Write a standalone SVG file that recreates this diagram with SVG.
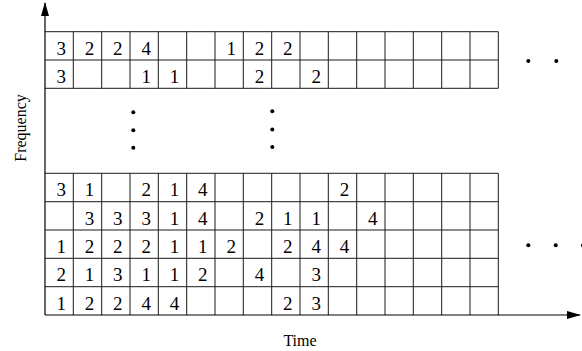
<svg xmlns="http://www.w3.org/2000/svg" width="582" height="351" viewBox="0 0 582 351">
<style>
.g{stroke:#1a1a1a;stroke-width:1;fill:none}
.ax{stroke:#000;stroke-width:1.2;fill:none}
.d{font-family:"Liberation Serif","Times New Roman",serif;font-size:19px;fill:#000;text-anchor:middle}
.lb{font-family:"Liberation Serif","Times New Roman",serif;font-size:16px;fill:#000;text-anchor:middle}
.dot{fill:#000}
</style>
<defs>
<marker id="ah" markerWidth="14" markerHeight="8" refX="13" refY="4" orient="auto" markerUnits="userSpaceOnUse">
<path d="M0,0 L14,4 L0,8 Z" fill="#000"/>
</marker>
</defs>
<rect width="582" height="351" fill="#fff"/>
<g id="grid-top">
<path class="g" d="M45,31.7H498.3M45,60H498.3M45,88.3H498.3"/>
<path class="g" d="M73.3,31.7V88.3M101.7,31.7V88.3M130,31.7V88.3M158.3,31.7V88.3M186.7,31.7V88.3M215,31.7V88.3M243.3,31.7V88.3M271.7,31.7V88.3M300,31.7V88.3M328.3,31.7V88.3M356.7,31.7V88.3M385,31.7V88.3M413.3,31.7V88.3M441.7,31.7V88.3M470,31.7V88.3M498.3,31.7V88.3"/>
</g>
<g id="grid-bottom">
<path class="g" d="M45,173.3H498.3M45,201.7H498.3M45,230H498.3M45,258.3H498.3M45,286.7H498.3"/>
<path class="g" d="M73.3,173.3V315M101.7,173.3V315M130,173.3V315M158.3,173.3V315M186.7,173.3V315M215,173.3V315M243.3,173.3V315M271.7,173.3V315M300,173.3V315M328.3,173.3V315M356.7,173.3V315M385,173.3V315M413.3,173.3V315M441.7,173.3V315M470,173.3V315M498.3,173.3V315"/>
</g>
<g id="row-t1" class="d">
<text x="61.2" y="54.7">3</text><text x="89.5" y="54.7">2</text><text x="117.8" y="54.7">2</text><text x="146.2" y="54.7">4</text>
<text x="231.2" y="54.7">1</text><text x="259.5" y="54.7">2</text><text x="287.8" y="54.7">2</text>
</g>
<g id="row-t2" class="d">
<text x="61.2" y="83">3</text><text x="146.2" y="83">1</text><text x="174.5" y="83">1</text><text x="259.5" y="83">2</text><text x="316.2" y="83">2</text>
</g>
<g id="row-b1" class="d">
<text x="61.2" y="196.3">3</text><text x="89.5" y="196.3">1</text><text x="146.2" y="196.3">2</text><text x="174.5" y="196.3">1</text><text x="202.8" y="196.3">4</text><text x="344.5" y="196.3">2</text>
</g>
<g id="row-b2" class="d">
<text x="89.5" y="224.7">3</text><text x="117.8" y="224.7">3</text><text x="146.2" y="224.7">3</text><text x="174.5" y="224.7">1</text><text x="202.8" y="224.7">4</text>
<text x="259.5" y="224.7">2</text><text x="287.8" y="224.7">1</text><text x="316.2" y="224.7">1</text><text x="372.8" y="224.7">4</text>
</g>
<g id="row-b3" class="d">
<text x="61.2" y="253">1</text><text x="89.5" y="253">2</text><text x="117.8" y="253">2</text><text x="146.2" y="253">2</text><text x="174.5" y="253">1</text><text x="202.8" y="253">1</text><text x="231.2" y="253">2</text>
<text x="287.8" y="253">2</text><text x="316.2" y="253">4</text><text x="344.5" y="253">4</text>
</g>
<g id="row-b4" class="d">
<text x="61.2" y="281.3">2</text><text x="89.5" y="281.3">1</text><text x="117.8" y="281.3">3</text><text x="146.2" y="281.3">1</text><text x="174.5" y="281.3">1</text><text x="202.8" y="281.3">2</text>
<text x="259.5" y="281.3">4</text><text x="316.2" y="281.3">3</text>
</g>
<g id="row-b5" class="d">
<text x="61.2" y="309.7">1</text><text x="89.5" y="309.7">2</text><text x="117.8" y="309.7">2</text><text x="146.2" y="309.7">4</text><text x="174.5" y="309.7">4</text>
<text x="287.8" y="309.7">2</text><text x="316.2" y="309.7">3</text>
</g>
<g id="ellipses">
<circle class="dot" cx="133.3" cy="112.3" r="2"/><circle class="dot" cx="133.3" cy="130.3" r="2"/><circle class="dot" cx="133.3" cy="147.7" r="2"/>
<circle class="dot" cx="272.3" cy="111.3" r="2"/><circle class="dot" cx="272.3" cy="129.5" r="2"/><circle class="dot" cx="272.3" cy="147" r="2"/>
<circle class="dot" cx="528.3" cy="61" r="2"/><circle class="dot" cx="556.3" cy="61" r="2"/>
<circle class="dot" cx="528.3" cy="245.3" r="2"/><circle class="dot" cx="555.7" cy="245.3" r="2"/><circle class="dot" cx="583" cy="245.3" r="2"/>
</g>
<g id="connectors">
<path class="ax" d="M45,315V3" marker-end="url(#ah)"/>
<path class="ax" d="M45,315H580" marker-end="url(#ah)"/>
</g>
<g id="labels">
<text class="lb" x="300" y="346">Time</text>
<text class="lb" transform="translate(26,128) rotate(-90)">Frequency</text>
</g>
</svg>
